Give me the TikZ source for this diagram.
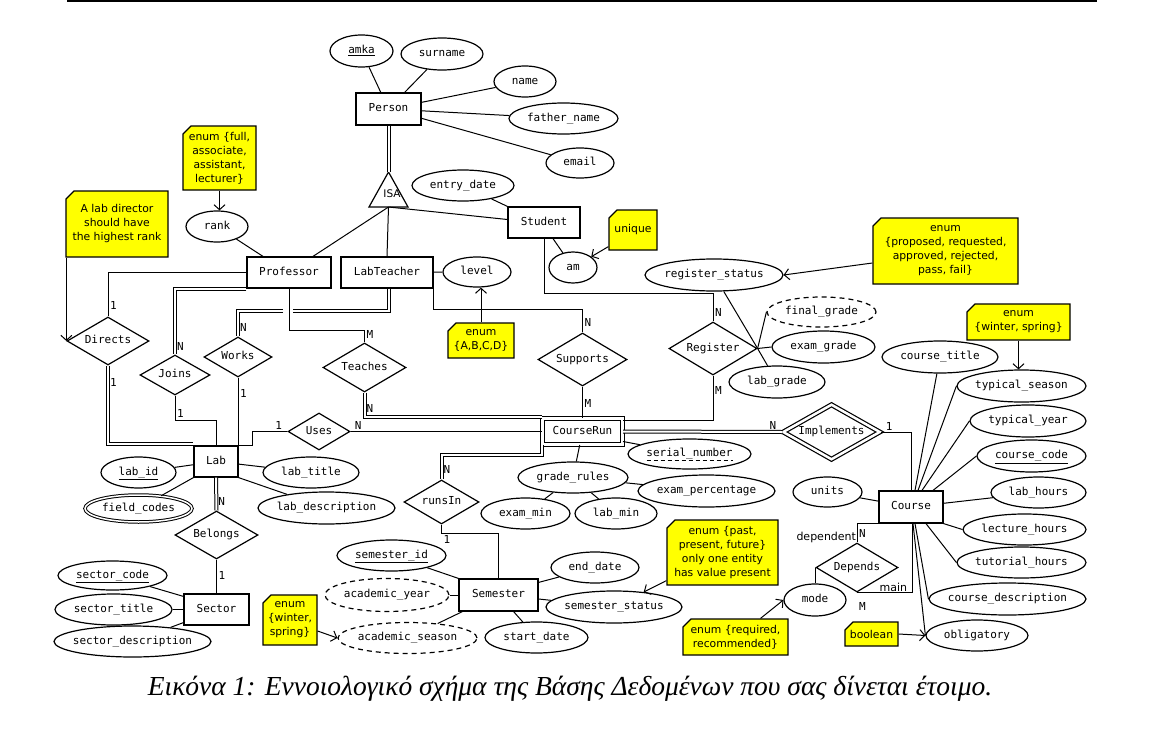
\documentclass[tikz,border=0pt]{standalone}
\usepackage{fontspec}
\setmainfont{Liberation Serif}
\setmonofont{DejaVu Sans Mono}
\newfontfamily\notefont{DejaVu Sans}
\usetikzlibrary{arrows.meta,positioning,shapes.geometric,shapes.misc,calc}
\definecolor{notebg}{RGB}{255,255,0}

\begin{document}
\begin{tikzpicture}[x=1pt,y=-1pt,
  every node/.style={font=\ttfamily\fontsize{11}{13}\selectfont},
  fixtext/.style={execute at begin node={\hbox to 0pt\bgroup\hss},execute at end node={\hss\egroup}},
  ent/.style={draw,rectangle,line width=1.2pt,inner sep=0pt,text height=8pt,text depth=2.5pt},
  rel/.style={draw,diamond,line width=1.2pt,inner sep=0pt,fixtext,text height=8pt,text depth=2.5pt},
  attr/.style={draw,ellipse,line width=1.2pt,inner sep=0pt,fixtext,text height=8pt,text depth=2.5pt},
  note/.style={draw,fill=notebg,chamfered rectangle,chamfered rectangle corners=north west,
    chamfered rectangle xsep=4pt,chamfered rectangle ysep=4pt,line width=1.2pt,inner sep=0pt,
    align=center,font=\notefont\fontsize{10.8}{14}\selectfont},
  card/.style={inner sep=1.5pt,font=\ttfamily\fontsize{11}{13}\selectfont},
  role/.style={inner sep=0.5pt,font=\notefont\fontsize{11}{13}\selectfont},
  dbl/.style={double,double distance=2pt,line width=1pt},
  ln/.style={line width=1pt},
  arr/.style={line width=1pt,-{Straight Barb[length=5pt,width=11pt]}}
]
\useasboundingbox (0,0) rectangle (1176,736);
\draw[line width=1.3pt] (67,1) -- (1097,1);

% entities
\node[ent,minimum width=65,minimum height=32] (person) at (388.5,109) {Person};
\node[ent,minimum width=72,minimum height=31] (stud) at (544,222.5) {Student};
\node[ent,minimum width=84,minimum height=31] (prof) at (289,272.5) {Professor};
\node[ent,minimum width=92,minimum height=31] (labt) at (387,272.5) {LabTeacher};
\node[ent,minimum width=44,minimum height=31] (lab) at (216,461.5) {Lab};
\node[ent,minimum width=65,minimum height=31] (sector) at (216.5,609.5) {Sector};
\node[ent,minimum width=79,minimum height=32] (sem) at (498.5,595) {Semester};
\node[ent,double,double distance=3pt,line width=1pt,minimum width=80,minimum height=26] (crun) at (582.5,431.5) {CourseRun};
\node[ent,minimum width=64,minimum height=32] (course) at (911,507) {Course};

% isa
\coordinate (isatop) at (388.5,172);
\coordinate (isabase) at (388.5,207);
\draw[line width=1.2pt] (369,207) -- (408,207) -- (isatop) -- cycle;
\node[font=\notefont\fontsize{10.5}{12}\selectfont] (isa) at (392,194) {ISA};

% relationships
\node[rel,minimum width=82,minimum height=48] (directs) at (108,341) {Directs};
\node[rel,minimum width=70,minimum height=40] (joins) at (175,375) {Joins};
\node[rel,minimum width=68,minimum height=40] (works) at (238,357) {Works};
\node[rel,minimum width=83,minimum height=49] (teaches) at (364.5,367.5) {Teaches};
\node[rel,minimum width=89,minimum height=53] (supports) at (582.5,359.5) {Supports};
\node[rel,minimum width=88,minimum height=53] (reg) at (713,348.5) {Register};
\node[rel,minimum width=62,minimum height=37] (uses) at (319,431.5) {Uses};
\node[rel,minimum width=83,minimum height=48] (belongs) at (216.5,535) {Belongs};
\node[rel,minimum width=75,minimum height=44] (runsin) at (441.5,502) {runsIn};
\node[rel,double,double distance=2.5pt,minimum width=97,minimum height=55] (impl) at (831.5,432) {Implements};
\node[rel,minimum width=82,minimum height=49] (depends) at (857,567.5) {Depends};

% attributes
\node[attr,minimum width=63,minimum height=32] (amka) at (361.5,51) {\underline{amka}};
\node[attr,minimum width=82,minimum height=32] (surname) at (442,54) {surname};
\node[attr,minimum width=62,minimum height=31] (name) at (525,81.5) {name};
\node[attr,minimum width=109,minimum height=31] (fname) at (563.5,118.5) {father\_name};
\node[attr,minimum width=68,minimum height=30] (email) at (580,163) {email};
\node[attr,minimum width=102,minimum height=31] (entry) at (463,185.5) {entry\_date};
\node[attr,minimum width=48,minimum height=31] (am) at (573,267.5) {am};
\node[attr,minimum width=62,minimum height=31] (rank) at (217,226.5) {rank};
\node[attr,minimum width=68,minimum height=30] (level) at (477,272) {level};
\node[attr,minimum width=138,minimum height=32] (regstat) at (714,275) {register\_status};
\node[attr,dashed,dash pattern=on 5pt off 4pt,minimum width=109,minimum height=30] (fgrade) at (821.5,312) {final\_grade};
\node[attr,minimum width=103,minimum height=32] (egrade) at (823.5,347) {exam\_grade};
\node[attr,minimum width=96,minimum height=32] (lgrade) at (777,382) {lab\_grade};
\node[attr,minimum width=75,minimum height=31] (labid) at (138.5,472.5) {\underline{lab\_id}};
\node[attr,double,double distance=1.5pt,line width=1pt,minimum width=107,minimum height=27] (fcodes) at (138.5,508.5) {field\_codes};
\node[attr,minimum width=96,minimum height=31] (ltitle) at (311,472.5) {lab\_title};
\node[attr,minimum width=137,minimum height=32] (ldesc) at (326.5,508) {lab\_description};
\node[attr,minimum width=109,minimum height=29] (scode) at (112.5,575.5) {\underline{sector\_code}};
\node[attr,minimum width=117,minimum height=31] (stitle) at (113.5,609.5) {sector\_title};
\node[attr,minimum width=157,minimum height=31] (sdesc) at (132.5,641.5) {sector\_description};
\node[attr,minimum width=109,minimum height=31] (semid) at (391.5,555.5) {\underline{semester\_id}};
\node[attr,dashed,dash pattern=on 5pt off 4pt,minimum width=124,minimum height=33] (acyear) at (387,595) {academic\_year};
\node[attr,dashed,dash pattern=on 5pt off 4pt,minimum width=139,minimum height=31] (acseason) at (407.5,638) {academic\_season};
\node[attr,minimum width=88,minimum height=31] (enddate) at (595,567.5) {end\_date};
\node[attr,minimum width=136,minimum height=32] (semstat) at (614,607) {semester\_status};
\node[attr,minimum width=103,minimum height=31] (startdate) at (536.5,637.5) {start\_date};
\node[attr,minimum width=123,minimum height=30] (serial) at (689.5,454) {serial\_number};
\node[attr,minimum width=110,minimum height=31] (grules) at (573,477.5) {grade\_rules};
\node[attr,minimum width=137,minimum height=32] (exper) at (706.5,491) {exam\_percentage};
\node[attr,minimum width=89,minimum height=31] (exmin) at (525.5,513.5) {exam\_min};
\node[attr,minimum width=82,minimum height=31] (labmin) at (616,513.5) {lab\_min};
\node[attr,minimum width=116,minimum height=32] (ctitle) at (940,357) {course\_title};
\node[attr,minimum width=129,minimum height=32] (tseason) at (1021.5,386) {typical\_season};
\node[attr,minimum width=116,minimum height=32] (tyear) at (1028,421) {typical\_year};
\node[attr,minimum width=109,minimum height=32] (ccode) at (1031.5,456) {\underline{course\_code}};
\node[attr,minimum width=95,minimum height=31] (labh) at (1038.5,492.5) {lab\_hours};
\node[attr,minimum width=123,minimum height=31] (lech) at (1024.5,529.5) {lecture\_hours};
\node[attr,minimum width=129,minimum height=31] (tuth) at (1021.5,562.5) {tutorial\_hours};
\node[attr,minimum width=157,minimum height=32] (cdesc) at (1007.5,599) {course\_description};
\node[attr,minimum width=102,minimum height=31] (oblig) at (977,635.5) {obligatory};
\node[attr,minimum width=69,minimum height=30] (units) at (827.5,492) {units};
\node[attr,minimum width=62,minimum height=32] (mode) at (815,600) {mode};
\draw[line width=0.8pt,dash pattern=on 4pt off 3pt] ($(serial.center)+(-43,6)$) -- ($(serial.center)+(43,6)$);

% notes
\node[note,minimum width=73,minimum height=64] (ranknote) at (219.5,158) {enum \{full,\\associate,\\assistant,\\lecturer\}};
\node[note,minimum width=102,minimum height=66] (dirnote) at (117,224) {A lab director\\should have\\the highest rank};
\node[note,minimum width=66,minimum height=35] (levelnote) at (481,340.5) {enum\\\{A,B,C,D\}};
\node[note,minimum width=48,minimum height=40] (uniqnote) at (633,230) {unique};
\node[note,minimum width=145,minimum height=66] (regnote) at (945.5,251) {enum\\\{proposed, requested,\\approved, rejected,\\pass, fail\}};
\node[note,minimum width=103,minimum height=36] (tsnote) at (1018.5,322) {enum\\\{winter, spring\}};
\node[note,minimum width=111,minimum height=65] (semnote) at (722.5,552.5) {enum \{past,\\present, future\}\\only one entity\\has value present};
\node[note,minimum width=105,minimum height=36] (modenote) at (735.5,637) {enum \{required,\\recommended\}};
\node[note,minimum width=54,minimum height=50] (acnote) at (290,620) {enum\\\{winter,\\spring\}};
\node[note,minimum width=53,minimum height=24] (boolnote) at (871.5,634) {boolean};

% person and isa
\draw[ln] (amka) -- (person);
\draw[ln] (surname) -- (person);
\draw[ln] (name) -- (person);
\draw[ln] (fname) -- (person);
\draw[ln] (email) -- (person);
\draw[dbl] (person.south) -- (isatop);
\draw[ln] (isabase) -- ([xshift=24pt]prof.north);
\draw[ln] (isabase) -- (labt.north);
\draw[ln] (isabase) -- ([yshift=3pt]stud.west);

% student
\draw[ln] (entry) -- (stud.north west);
\draw[ln] (am) -- ([xshift=9pt]stud.south);
\draw[arr] ([yshift=4pt]uniqnote.south west) -- (am);
\draw[ln] (stud.south) -- ++(0,55) -| node[card,pos=0.84,right] (cn1) {N} (reg.north);

% professor, labteacher
\draw[ln] (rank) -- ([xshift=-26pt]prof.north);
\draw[arr] (ranknote.south) -- (ranknote.south |- rank.north);
\draw[ln] (labt) -- (level);
\draw[arr] (levelnote.north) -- (levelnote.north |- level.south);
\draw[arr] (directs.west |- dirnote.south) -- (directs.west);
\draw[ln] (prof.west) -| node[card,pos=0.88,right] (cd1) {1} (directs.north);
\draw[dbl] (directs.south) |- node[card,pos=0.11,right] (cd2) {1} ([yshift=1.5pt]lab.north west);
\draw[dbl] (prof.south west) -| node[card,pos=0.94,right] (cj1) {N} (joins.north);
\draw[ln] (joins.south) -- node[card,pos=0.7,right] (cj2) {1} ++(0,25) -| (lab.north);
\coordinate (jump) at (288,311);
\draw[dbl] ([xshift=1.5pt]labt.south) |- ([xshift=5pt]jump);
\draw[dbl] ([xshift=-5pt]jump) -| node[card,pos=0.83,right] (cw1) {N} (works.north);
\draw[ln] (works.south) -- node[card,pos=0.23,right] (cw2) {1} (works.south |- lab.north);
\draw[ln] (prof.south) -- ++(0,42) -| node[card,pos=0.65,right] (ct1) {M} (teaches.north);
\draw[dbl] (teaches.south) |- node[card,pos=0.33,right] (ct2) {N} ([yshift=15pt]crun.west);
\draw[ln] (labt.south east) -- ++(0,21) -| node[card,pos=0.79,right] (cs1) {N} (supports.north);
\draw[ln] (supports.south) -- node[card,pos=0.53,right] (cs2) {M} (crun.north);

% lab
\draw[ln] (lab.north east) -- ++(14,0) |- node[card,pos=0.875,above] (cu1) {1} (uses.west);
\draw[ln] (uses.east) -- node[card,pos=0.04,above] (cu2) {N} (crun.west);
\draw[ln] (labid) -- (lab);
\draw[ln] (fcodes) -- (lab.south west);
\draw[ln] (ltitle) -- (lab);
\draw[ln] (ldesc) -- (lab.south east);
\draw[dbl] (lab.south) -- node[card,pos=0.74,right] (cb1) {N} (belongs.north);
\draw[ln] (belongs.south) -- node[card,pos=0.46,right] (cb2) {1} (sector.north);
\draw[ln] (scode) -- ([yshift=-3pt]sector.north west);
\draw[ln] (stitle) -- (sector);
\draw[ln] (sdesc) -- ([yshift=3pt]sector.south west);

% register
\draw[ln] (reg.south) |- node[card,pos=0.165,right] (cr1) {M} ([yshift=11pt]crun.east);
\draw[ln] (regstat) -- (reg.east);
\draw[ln] (reg.east) -- (lgrade);
\draw[ln] (reg.east) -- (fgrade.west);
\draw[ln] (reg.east) -- (egrade.west);
\draw[arr] ([yshift=-12pt]regnote.west) -- (regstat.east);

% courserun
\draw[ln] (crun) -- (grules);
\draw[ln] (grules) -- (exmin);
\draw[ln] (grules) -- (labmin);
\draw[ln] (grules) -- (exper);
\draw[ln] (serial) -- ([yshift=-10pt]crun.east);
\draw[dbl] (crun.east) -- node[card,pos=0.94,above] (ci1) {N} (impl.west);
\draw[ln] (impl.east) -| node[card,pos=0.14,above] (ci2) {1} (course.north);
\draw[dbl] (crun.south west) -- ++(0,10) -| node[card,pos=0.8,right] (cn2) {N} (runsin.north);
\draw[ln] (runsin.south) -- ++(0,9) node[card,below right] (cn3) {1} -| (sem.north);

% semester
\draw[ln] (semid) -- (sem.north west);
\draw[ln] (acyear) -- (sem);
\draw[ln] (acseason) -- ([xshift=4pt]sem.south west);
\draw[ln] (enddate) -- ([yshift=-4pt]sem.north east);
\draw[ln] (semstat) -- ([yshift=-4pt]sem.east);
\draw[ln] (startdate) -- ([xshift=-25pt]sem.south east);
\draw[arr] ([yshift=5pt]semnote.south west) -- (semstat);
\draw[arr] ([yshift=-11pt]acnote.east) -- (acseason.west);

% course
\draw[ln] (ctitle) -- ([xshift=4pt]course.north);
\draw[ln] (tseason.west) -- ([xshift=7pt]course.north);
\draw[ln] (tyear.west) -- ([xshift=11pt]course.north);
\draw[ln] (ccode.west) -- ([xshift=22pt]course.north);
\draw[ln] (course) -- (labh);
\draw[ln] (course.south east) -- (lech.west);
\draw[ln] ([xshift=15pt]course.south) -- (tuth.west);
\draw[ln] ([xshift=4pt]course.south) -- (cdesc.west);
\draw[ln] ([xshift=2pt]course.south) -- (oblig.west);
\draw[ln] (units) -- (course);
\draw[arr] (tsnote.south) -- (tsnote.south |- tseason.north);
\draw[arr] (boolnote.east) -- (oblig.west);
\draw[ln] (course.south west) -| node[card,pos=0.75,right] (cp1) {N} node[role,pos=0.87,left] (dep) {dependent} (depends.north);
\draw[ln] (depends.south) -| node[role,pos=0.33,above] (mainlbl) {main} node[card,pos=0.05,below=8pt] (cp2) {M} ([xshift=1pt]course.south);
\draw[ln] (depends.west) -- (depends.west |- mode.north);
\draw[arr] ([xshift=25pt]modenote.north) -- (mode.west);

% caption
\node[font=\rmfamily\itshape\fontsize{27.5}{32}\selectfont] (caption) at (570,689) {Εικόνα 1: Εννοιολογικό σχήμα της Βάσης Δεδομένων που σας δίνεται έτοιμο.};
\end{tikzpicture}
\end{document}
